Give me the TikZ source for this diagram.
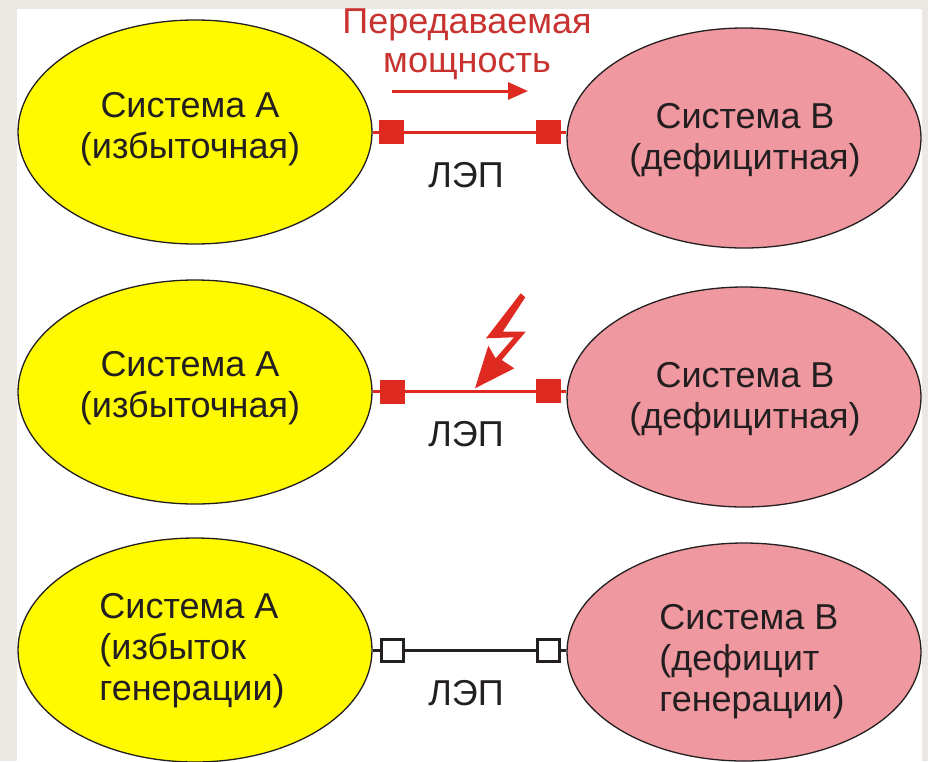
\documentclass[tikz,border=0pt]{standalone}
\usepackage{fontspec}
\setmainfont{Liberation Sans}
\usetikzlibrary{shapes.geometric,arrows.meta}
\definecolor{pagebg}{HTML}{EBE7E3}
\definecolor{sysyellow}{HTML}{FFFA00}
\definecolor{syspink}{HTML}{F0989F}
\definecolor{linered}{HTML}{DE2A20}
\definecolor{textred}{HTML}{C8322F}
\definecolor{ink}{HTML}{231F20}
\tikzset{
  sysa/.style={ellipse,draw=ink,line width=1.3pt,fill=sysyellow,minimum width=354pt,minimum height=224pt,inner sep=0pt},
  sysb/.style={ellipse,draw=ink,line width=1.3pt,fill=syspink,minimum width=354pt,minimum height=220pt,inner sep=0pt},
  lbl/.style={font=\fontsize{36}{41}\selectfont,text=ink,align=center,inner sep=0pt},
  lblleft/.style={lbl,align=left},
  redlbl/.style={lbl,text=textred},
  termred/.style={rectangle,fill=linered,minimum width=25pt,minimum height=24pt,inner sep=0pt},
  termwhite/.style={rectangle,draw=ink,line width=3pt,fill=white,minimum width=22pt,minimum height=22pt,inner sep=0pt},
  redline/.style={draw=linered,line width=3pt},
  blackline/.style={draw=ink,line width=3pt}
}
\begin{document}
\begin{tikzpicture}[x=1pt,y=-1pt]
\useasboundingbox (0,0) rectangle (928,761);
\fill[pagebg] (0,0) rectangle (928,761);
\fill[white] (17,9) rectangle (922,761);
% row 1
\node[sysa] (a1) at (195,132) {};
\node[sysb] (b1) at (744,138) {};
\node[lbl] (a1t) at (190,129) {Система А\\(избыточная)};
\node[lbl] (b1t) at (745,140) {Система В\\(дефицитная)};
\draw[redline] (a1.east|-0,132) -- (b1.west|-0,132);
\node[termred] (s1l) at (391.5,132) {};
\node[termred] (s1r) at (548,132) {};
\node[lbl] (l1) at (466,175) {ЛЭП};
\node[redlbl] (p1) at (467,25) {Передаваемая};
\node[redlbl] (p2) at (467,66) {мощность};
\coordinate (pa) at (392,91);
\coordinate (pb) at (528,91);
\draw[draw=linered,line width=3pt,-{Triangle[length=20pt,width=17pt]}] (pa) -- (pb);
% row 2
\node[sysa] (a2) at (195,392) {};
\node[sysb] (b2) at (744,397) {};
\node[lbl] (a2t) at (190,388) {Система А\\(избыточная)};
\node[lbl] (b2t) at (745,399) {Система В\\(дефицитная)};
\draw[redline] (a2.east|-0,391) -- (b2.west|-0,391);
\node[termred] (s2l) at (392,391.5) {};
\node[termred] (s2r) at (548,391) {};
\node[lbl] (l2) at (466,434) {ЛЭП};
\fill[linered] (520.7,293.3) -- (525.3,297.3) -- (502.7,331.7) -- (525.7,331.7) -- (501.7,360) -- (514.3,368.3) -- (475,388.3) -- (488.3,345.7) -- (495.7,358.3) -- (514,337.3) -- (486,338.3) -- cycle;
% row 3
\node[sysa] (a3) at (195,650) {};
\node[sysb,minimum height=218pt] (b3) at (744,652) {};
\node[lblleft] (a3t) at (192,651) {Система А\\(избыток\\генерации)};
\node[lblleft] (b3t) at (752,662) {Система В\\(дефицит\\генерации)};
\draw[blackline] (a3.east|-0,650) -- (b3.west|-0,650);
\node[termwhite] (s3l) at (392,650.5) {};
\node[termwhite] (s3r) at (548,650) {};
\node[lbl] (l3) at (466,693) {ЛЭП};
\end{tikzpicture}
\end{document}
